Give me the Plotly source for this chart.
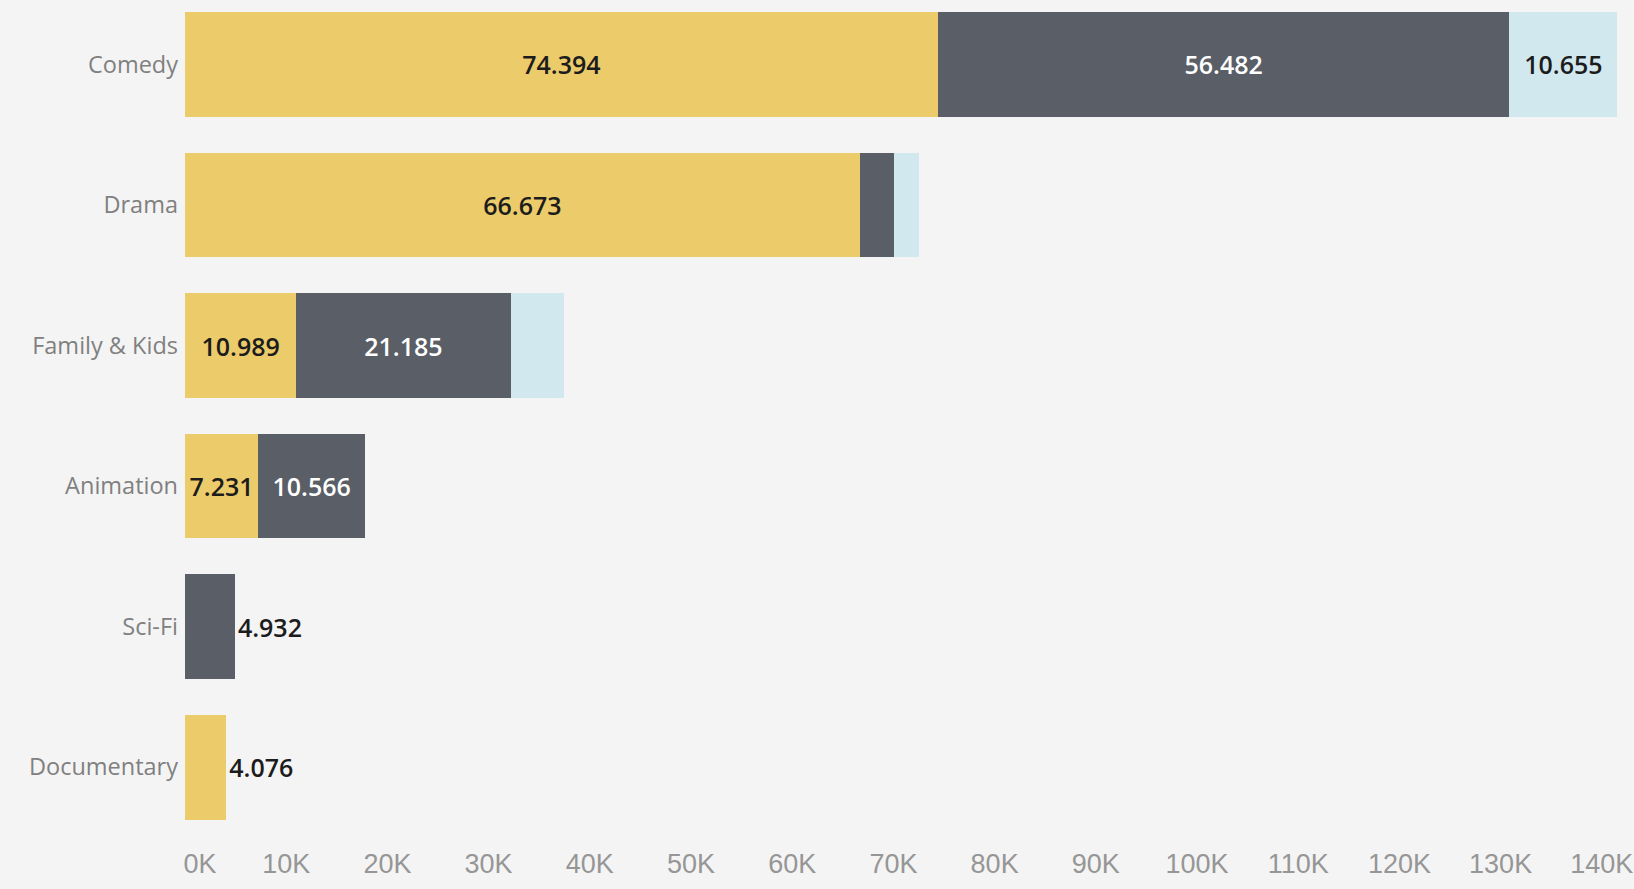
import plotly.graph_objects as go

# Categories, top to bottom
genres = ["Comedy", "Drama", "Family & Kids", "Animation", "Sci-Fi", "Documentary"]

# Stacked segment values (thousands)
gold_vals = [74.394, 66.673, 10.989, 7.231, None, 4.076]
slate_vals = [56.482, 3.39, 21.185, 10.566, 4.932, None]
ice_vals = [10.655, 2.47, 5.28, None, None, None]

# Which segments carry a printed value
gold_show = [True, True, True, True, False, True]
slate_show = [True, False, True, True, True, False]
ice_show = [True, False, False, False, False, False]

x_ticks = list(range(0, 150, 10))
x_tick_text = [f"{t}K" for t in x_ticks]
# the first label sits flush with the start of the pane
x_tick_text[0] = "\u00a0" * 4 + x_tick_text[0]

GOLD = "#ECCB6B"
SLATE = "#5A5E66"
ICE = "#D1E8EF"
BG = "#F4F4F4"

label_font = dict(family="Open Sans, sans-serif", size=25, weight=600)


def labels(vals, show):
    return [f"{v:.3f}" if (s and v is not None) else "" for v, s in zip(vals, show)]


def positions(vals, outside_idx):
    return ["outside" if i in outside_idx else "inside" for i in range(len(vals))]


fig = go.Figure()

series = [
    ("gold", gold_vals, gold_show, GOLD, "#1c1c1c", {5}),
    ("slate", slate_vals, slate_show, SLATE, "#ffffff", {4}),
    ("ice", ice_vals, ice_show, ICE, "#1c1c1c", set()),
]

for name, vals, show, color, txt_color, outside in series:
    fig.add_trace(
        go.Bar(
            name=name,
            y=genres,
            x=vals,
            orientation="h",
            width=0.747,
            marker=dict(color=color, line=dict(width=0)),
            text=labels(vals, show),
            textposition=positions(vals, outside),
            insidetextanchor="middle",
            textangle=0,
            constraintext="none",
            insidetextfont=dict(color=txt_color, **label_font),
            outsidetextfont=dict(color="#1c1c1c", **label_font),
            cliponaxis=False,
            hoverinfo="skip",
            showlegend=False,
        )
    )

fig.update_layout(
    width=1634,
    height=889,
    barmode="stack",
    paper_bgcolor=BG,
    plot_bgcolor=BG,
    margin=dict(l=185, r=0, t=0, b=44),
    xaxis=dict(
        range=[0, 143.18],
        tickvals=x_ticks,
        ticktext=x_tick_text,
        showgrid=False,
        zeroline=False,
        showline=False,
        ticks="",
        tickfont=dict(family="Liberation Sans Narrow, Liberation Sans, sans-serif", size=27, color="#969696"),
        fixedrange=True,
    ),
    yaxis=dict(
        type="category",
        categoryorder="array",
        categoryarray=genres,
        range=[5.555, -0.459],
        showgrid=False,
        zeroline=False,
        showline=False,
        ticks="",
        ticklabelstandoff=6,
        tickfont=dict(family="Open Sans, sans-serif", size=23.5, color="#808080"),
        fixedrange=True,
    ),
)

fig.write_html("out.html")
